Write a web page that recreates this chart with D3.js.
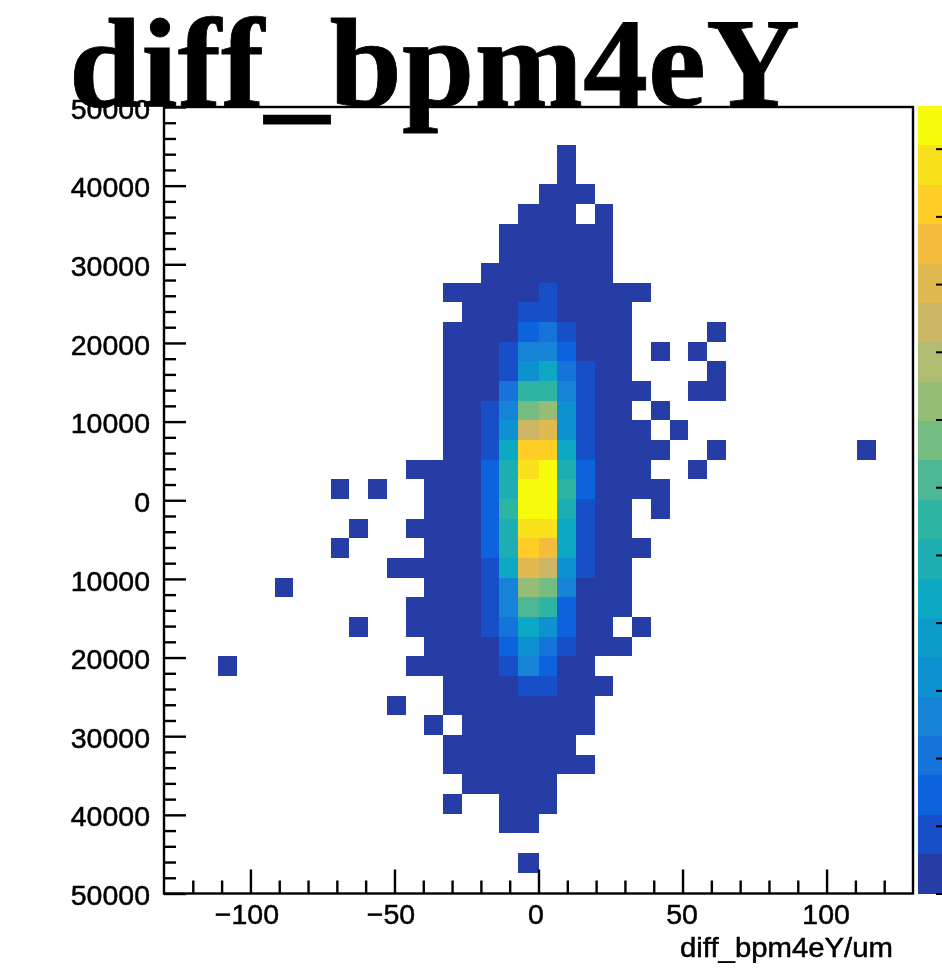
<!DOCTYPE html>
<html>
<head>
<meta charset="utf-8">
<script src="https://cdn.jsdelivr.net/npm/d3@7"></script>
<style>
html,body{margin:0;padding:0;background:#fff;overflow:hidden}
svg{display:block}
</style>
</head>
<body>
<svg id="chart" width="942" height="974"></svg>
<script>
const titleText = "diff_bpm4eY";
const xAxisTitle = "diff_bpm4eY/um";
const xDomain = [-130, 130];
const yDomain = [-50000, 50000];
const xMajorTicks = [-100, -50, 0, 50, 100];
const yMajorTicks = [-50000, -40000, -30000, -20000, -10000, 0, 10000, 20000, 30000, 40000, 50000];
const nBins = 40;
const zMax = 2326;
const zTicks = [0, 200, 400, 600, 800, 1000, 1200, 1400, 1600, 1800, 2000, 2200];
const palette = ["#283ca6","#1850c8","#0f62de","#1373d9","#1483d6","#0f91d1","#0c9dcb","#0ba8c3","#1daeb2","#2db4a3",
  "#4db694","#75bc80","#96bd76","#b0bc70","#cdb665","#e0b94f","#f4bc3c","#ffcd28","#f9e11e","#f9fb0e"];

// one entry per row of bins counted from the top: [rowIndex, [firstColumn, [colour band of each bin]], ...]
const binRows = [
  [2, [21,[0]]],
  [3, [21,[0]]],
  [4, [20,[0,0,0]]],
  [5, [19,[0,0,0]], [23,[0]]],
  [6, [18,[0,0,0,0,0,0]]],
  [7, [18,[0,0,0,0,0,0]]],
  [8, [17,[0,0,0,0,0,0,0]]],
  [9, [15,[0,0,0,0,0,1,0,0,0,0,0]]],
  [10,[16,[0,0,0,1,1,0,0,0,0]]],
  [11,[15,[0,0,0,0,2,3,1,0,0,0]], [29,[0]]],
  [12,[15,[0,0,0,1,4,4,2,0,0,0]], [26,[0]], [28,[0]]],
  [13,[15,[0,0,0,1,5,7,3,1,0,0]], [29,[0]]],
  [14,[15,[0,0,0,3,9,9,4,1,0,0,0]], [28,[0,0]]],
  [15,[15,[0,0,1,4,11,12,5,1,0,0]], [26,[0]]],
  [16,[15,[0,0,1,5,14,15,5,1,0,0,0]], [27,[0]]],
  [17,[15,[0,0,1,7,17,17,7,1,0,0,0,0]], [29,[0]], [37,[0]]],
  [18,[13,[0,0,0,0,2,8,18,19,8,2,0,0,0]], [28,[0]]],
  [19,[9,[0]], [11,[0]], [14,[0,0,0,2,8,19,19,9,2,0,0,0,0]]],
  [20,[14,[0,0,0,2,9,19,19,8,1,0,0]], [26,[0]]],
  [21,[10,[0]], [13,[0,0,0,0,2,8,18,18,7,1,0,0]]],
  [22,[9,[0]], [14,[0,0,0,2,8,17,16,7,1,0,0,0]]],
  [23,[12,[0,0,0,0,0,1,7,15,14,5,1,0,0]]],
  [24,[6,[0]], [14,[0,0,0,1,4,12,11,4,0,0,0]]],
  [25,[13,[0,0,0,0,1,4,10,9,2,0,0,0]]],
  [26,[10,[0]], [13,[0,0,0,0,1,3,7,5,2,0,0]], [25,[0]]],
  [27,[14,[0,0,0,0,2,5,3,1,0,0,0]]],
  [28,[3,[0]], [13,[0,0,0,0,0,1,4,2,0,0]]],
  [29,[15,[0,0,0,0,1,1,0,0,0]]],
  [30,[12,[0]], [15,[0,0,0,0,0,0,0,0]]],
  [31,[14,[0]], [16,[0,0,0,0,0,0,0]]],
  [32,[15,[0,0,0,0,0,0,0]]],
  [33,[15,[0,0,0,0,0,0,0,0]]],
  [34,[16,[0,0,0,0,0]]],
  [35,[15,[0]], [18,[0,0,0]]],
  [36,[18,[0,0]]],
  [38,[19,[0]]]
];

const frame = {left:164, right:913, top:107, bottom:893.5};
const root = d3.select("#chart");
root.append("defs").append("filter").attr("id","soft")
  .attr("filterUnits","userSpaceOnUse").attr("x",0).attr("y",0).attr("width",942).attr("height",974)
  .append("feGaussianBlur").attr("stdDeviation",0.7);
const svg = root.append("g").attr("filter","url(#soft)");
svg.append("rect").attr("width",942).attr("height",974).attr("fill","#fff");

const x = d3.scaleLinear().domain(xDomain).range([frame.left, frame.right]);
const y = d3.scaleLinear().domain(yDomain).range([frame.bottom, frame.top]);
const col = d3.scaleBand().domain(d3.range(nBins + 1)).range([frame.left, frame.right + (frame.right-frame.left)/nBins]);
const row = d3.scaleBand().domain(d3.range(nBins)).range([frame.top - 1.2, frame.bottom - 1.2]);
const colour = d3.scaleOrdinal().domain(d3.range(palette.length)).range(palette);
// the reference's bins left of the centre sit about 2 pixels further left
const binX = c => col(c) - (c < 20 ? 1.8 : 0);

const bins = binRows.flatMap(([r, ...segs]) =>
  segs.flatMap(([start, vals]) => vals.map((band, k) => ({r, c:start+k, band}))));

svg.append("g").attr("shape-rendering","crispEdges").selectAll("rect").data(bins).join("rect")
  .attr("x", d => binX(d.c)).attr("y", d => row(d.r))
  .attr("width", d => binX(d.c + 1) - binX(d.c)).attr("height", row.bandwidth())
  .attr("fill", d => colour(d.band));

// colour bar
const barX = [917.5, 943];
const zScale = d3.scaleLinear().domain([0, zMax]).range([frame.bottom, frame.top - 1]);
const barBand = d3.scaleBand().domain(d3.range(palette.length)).range([frame.bottom, frame.top - 1]);
svg.append("g").attr("shape-rendering","crispEdges").selectAll("rect").data(palette).join("rect")
  .attr("x", barX[0]).attr("width", barX[1]-barX[0])
  .attr("y", (d,i) => barBand(i)).attr("height", barBand.bandwidth())
  .attr("fill", d => d);
const zAxis = svg.append("g").attr("transform", `translate(${barX[1]},0)`)
  .call(d3.axisLeft(zScale).tickValues(zTicks).tickSize(7).tickFormat(""));
zAxis.select(".domain").remove();
zAxis.selectAll("line").attr("stroke", "#000").attr("stroke-width", 2);

// frame
svg.append("rect").attr("x", frame.left).attr("y", frame.top)
  .attr("width", frame.right-frame.left).attr("height", frame.bottom-frame.top)
  .attr("fill", "none").attr("stroke", "#000").attr("stroke-width", 2.4);

const fontFamily = "'Liberation Sans', Arial, sans-serif";
function styleAxis(g) {
  g.select(".domain").remove();
  g.selectAll("line").attr("stroke", "#000").attr("stroke-width", 2.4);
  g.selectAll("text").attr("fill", "#000").attr("stroke", "#000").attr("stroke-width", 0.5)
    .style("font-family", fontFamily).style("font-size", "28.5px");
}
const xMinor = d3.range(-120, 121, 10).filter(v => !xMajorTicks.includes(v));
const yMinor = d3.range(-48000, 48001, 2000).filter(v => !yMajorTicks.includes(v));

svg.append("g").attr("transform", `translate(0,${frame.bottom})`)
  .call(d3.axisBottom(x).tickValues(xMinor).tickSize(-13).tickFormat(""))
  .call(styleAxis);
const xAx = svg.append("g").attr("transform", `translate(0,${frame.bottom})`)
  .call(d3.axisBottom(x).tickValues(xMajorTicks).tickSize(-24).tickPadding(10.5).tickFormat(d => d < 0 ? "\u2212" + Math.abs(d) : d))
  .call(styleAxis);
xAx.selectAll("text").attr("dx", d => d < 0 ? -4 : d === 0 ? -3 : -1);
svg.append("g").attr("transform", `translate(${frame.left},0)`)
  .call(d3.axisLeft(y).tickValues(yMinor).tickSize(-12).tickFormat(""))
  .call(styleAxis);
const yAx = svg.append("g").attr("transform", `translate(${frame.left},0)`)
  .call(d3.axisLeft(y).tickValues(yMajorTicks).tickSize(-22).tickPadding(14).tickFormat(d => Math.abs(d)))
  .call(styleAxis);
yAx.selectAll("text").attr("dy", "0.39em");

svg.append("text").attr("x", 680).attr("y", 956.5)
  .attr("textLength", 213).attr("lengthAdjust", "spacingAndGlyphs")
  .attr("fill", "#000").attr("stroke", "#000").attr("stroke-width", 0.5)
  .style("font-family", fontFamily).style("font-size", "27px").text(xAxisTitle);

svg.append("text").attr("x", 69).attr("y", 105.5)
  .attr("textLength", 731).attr("lengthAdjust", "spacingAndGlyphs")
  .attr("fill", "#000").attr("stroke", "#000").attr("stroke-width", 0.8)
  .style("font-family", "'Liberation Serif', serif").style("font-weight", "bold")
  .style("font-size", "127px").text(titleText);
</script>
</body>
</html>
